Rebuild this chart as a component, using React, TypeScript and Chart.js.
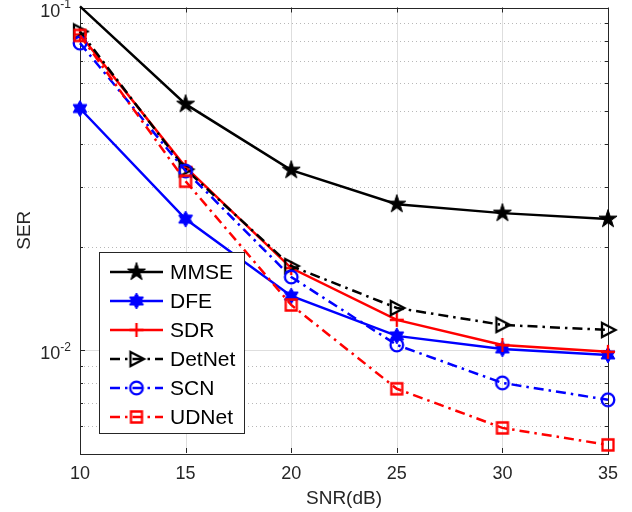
import React, { useEffect, useRef } from "react";
import { Chart, registerables } from "chart.js";

Chart.register(...registerables);

// ---- data ----
const snrValues = [10, 15, 20, 25, 30, 35];
const mmseSer = [0.1008, 0.0522, 0.0335, 0.02665, 0.02509, 0.0241];
const dfeSer = [0.0507, 0.0241, 0.01437, 0.01099, 0.01007, 0.00967];
const sdrSer = [0.0834, 0.0342, 0.01734, 0.01224, 0.01034, 0.00987];
const detnetSer = [0.0851, 0.0337, 0.01758, 0.01326, 0.01183, 0.01144];
const scnSer = [0.0787, 0.0333, 0.01633, 0.01034, 0.00801, 0.00715];
const udnetSer = [0.0829, 0.0311, 0.01353, 0.0077, 0.00592, 0.00528];

const seriesNames = ["MMSE", "DFE", "SDR", "DetNet", "SCN", "UDNet"];

const xMin = 10;
const xMax = 35;
const xStep = 5;
const yMin = 0.005;
const yMax = 0.1;
const yMajorTicks = [0.01, 0.1];
const yMajorBase = ["10", "10"];
const yMajorExp = ["-2", "-1"];
const yMinorTicks = [0.006, 0.007, 0.008, 0.009, 0.02, 0.03, 0.04, 0.05, 0.06, 0.07, 0.08, 0.09];

const xTitle = "SNR(dB)";
const yTitle = "SER";

const FONT = "'Liberation Sans', Arial, Helvetica, sans-serif";
const AXIS_COLOR = "#262626";
const DASHDOT = [10, 5, 2.5, 5];

type MarkerKind = "pentagram" | "hexagram" | "plus" | "triRight" | "circle" | "square";

function makeMarker(kind: MarkerKind, color: string): HTMLCanvasElement {
  const size = 24;
  const c = document.createElement("canvas");
  c.width = size;
  c.height = size;
  const ctx = c.getContext("2d")!;
  const cx = size / 2;
  const cy = size / 2;
  ctx.strokeStyle = color;
  ctx.fillStyle = color;
  ctx.lineWidth = 2.3;
  ctx.lineJoin = "miter";
  ctx.beginPath();
  if (kind === "pentagram" || kind === "hexagram") {
    const n = kind === "pentagram" ? 5 : 6;
    const ro = kind === "pentagram" ? 9.5 : 8;
    const ri = kind === "pentagram" ? ro * 0.382 : ro / Math.sqrt(3);
    for (let i = 0; i < 2 * n; i++) {
      const r = i % 2 === 0 ? ro : ri;
      const a = -Math.PI / 2 + (i * Math.PI) / n;
      const px = cx + r * Math.cos(a);
      const py = cy + r * Math.sin(a);
      if (i === 0) ctx.moveTo(px, py);
      else ctx.lineTo(px, py);
    }
    ctx.closePath();
    ctx.fill();
    ctx.lineWidth = 1;
    ctx.stroke();
  } else if (kind === "plus") {
    ctx.moveTo(cx - 7, cy);
    ctx.lineTo(cx + 7, cy);
    ctx.moveTo(cx, cy - 7);
    ctx.lineTo(cx, cy + 7);
    ctx.stroke();
  } else if (kind === "triRight") {
    ctx.moveTo(cx - 6, cy - 7);
    ctx.lineTo(cx + 7.5, cy);
    ctx.lineTo(cx - 6, cy + 7);
    ctx.closePath();
    ctx.stroke();
  } else if (kind === "circle") {
    ctx.arc(cx, cy, 6.3, 0, Math.PI * 2);
    ctx.stroke();
  } else if (kind === "square") {
    ctx.rect(cx - 5.5, cy - 5.5, 11, 11);
    ctx.stroke();
  }
  return c;
}

export default function App() {
  const canvasRef = useRef<HTMLCanvasElement | null>(null);

  useEffect(() => {
    const canvas = canvasRef.current;
    if (!canvas) return;

    const styles = [
      { color: "#000000", dash: [] as number[], marker: makeMarker("pentagram", "#000000") },
      { color: "#0000ff", dash: [] as number[], marker: makeMarker("hexagram", "#0000ff") },
      { color: "#ff0000", dash: [] as number[], marker: makeMarker("plus", "#ff0000") },
      { color: "#000000", dash: DASHDOT, marker: makeMarker("triRight", "#000000") },
      { color: "#0000ff", dash: DASHDOT, marker: makeMarker("circle", "#0000ff") },
      { color: "#ff0000", dash: DASHDOT, marker: makeMarker("square", "#ff0000") },
    ];
    const seriesData = [mmseSer, dfeSer, sdrSer, detnetSer, scnSer, udnetSer];

    const datasets = seriesData.map((arr, i) => ({
      label: seriesNames[i],
      data: snrValues.map((x, j) => ({ x, y: arr[j] })),
      borderColor: styles[i].color,
      backgroundColor: styles[i].color,
      borderWidth: 2.5,
      borderDash: styles[i].dash,
      pointStyle: styles[i].marker,
      pointRadius: (ctx: any) => (ctx.raw && ctx.raw.y > yMax ? 0 : 5),
      pointHoverRadius: 5,
      tension: 0,
      fill: false,
      clip: false as any,
      order: seriesData.length - 1 - i,
    }));

    const decorPlugin = {
      id: "matlabDecor",
      beforeDatasetsDraw(chart: any) {
        const ctx = chart.ctx as CanvasRenderingContext2D;
        const { left, right, top, bottom } = chart.chartArea;
        const xs = chart.scales.x;
        const ys = chart.scales.y;
        ctx.save();
        ctx.fillStyle = "#ffffff";
        ctx.fillRect(left, top, right - left, bottom - top);
        // vertical major grid
        ctx.strokeStyle = "rgba(0,0,0,0.13)";
        ctx.lineWidth = 1;
        ctx.setLineDash([]);
        for (let v = xMin + xStep; v < xMax; v += xStep) {
          const px = Math.round(xs.getPixelForValue(v)) + 0.5;
          ctx.beginPath();
          ctx.moveTo(px, top);
          ctx.lineTo(px, bottom);
          ctx.stroke();
        }
        // horizontal major grid
        yMajorTicks.forEach((v) => {
          if (v >= yMax) return;
          const py = Math.round(ys.getPixelForValue(v)) + 0.5;
          ctx.beginPath();
          ctx.moveTo(left, py);
          ctx.lineTo(right, py);
          ctx.stroke();
        });
        // minor dotted grid
        ctx.strokeStyle = "rgba(0,0,0,0.28)";
        ctx.setLineDash([1, 3]);
        yMinorTicks.forEach((v) => {
          const py = Math.round(ys.getPixelForValue(v)) + 0.5;
          ctx.beginPath();
          ctx.moveTo(left, py);
          ctx.lineTo(right, py);
          ctx.stroke();
        });
        ctx.setLineDash([]);
        // ticks
        ctx.strokeStyle = AXIS_COLOR;
        ctx.lineWidth = 1;
        for (let v = xMin; v <= xMax; v += xStep) {
          const px = Math.round(xs.getPixelForValue(v)) + 0.5;
          ctx.beginPath();
          ctx.moveTo(px, bottom);
          ctx.lineTo(px, bottom - 5);
          ctx.moveTo(px, top);
          ctx.lineTo(px, top + 5);
          ctx.stroke();
        }
        const yTick = (v: number, len: number) => {
          const py = Math.round(ys.getPixelForValue(v)) + 0.5;
          ctx.beginPath();
          ctx.moveTo(left, py);
          ctx.lineTo(left + len, py);
          ctx.moveTo(right, py);
          ctx.lineTo(right - len, py);
          ctx.stroke();
        };
        yMajorTicks.forEach((v) => yTick(v, 5));
        yMinorTicks.forEach((v) => yTick(v, 3));
        // box
        ctx.strokeStyle = AXIS_COLOR;
        ctx.lineWidth = 1;
        ctx.strokeRect(Math.round(left) + 0.5, Math.round(top) + 0.5, Math.round(right - left), Math.round(bottom - top));
        // y tick labels with superscript
        ctx.fillStyle = AXIS_COLOR;
        ctx.textBaseline = "middle";
        yMajorTicks.forEach((v, i) => {
          const py = ys.getPixelForValue(v);
          ctx.font = `12px ${FONT}`;
          const ew = ctx.measureText(yMajorExp[i]).width;
          ctx.textAlign = "right";
          const rightEdge = left - 9;
          ctx.fillText(yMajorExp[i], rightEdge, py - 2.5);
          ctx.font = `18px ${FONT}`;
          ctx.fillText(yMajorBase[i], rightEdge - ew, py + 4.5);
        });
        ctx.restore();
      },
      afterDraw(chart: any) {
        const ctx = chart.ctx as CanvasRenderingContext2D;
        ctx.save();
        const bx = 99.5, by = 252.5, bw = 145, bh = 181;
        ctx.fillStyle = "#ffffff";
        ctx.fillRect(bx, by, bw, bh);
        ctx.strokeStyle = AXIS_COLOR;
        ctx.lineWidth = 1;
        ctx.strokeRect(bx, by, bw, bh);
        seriesNames.forEach((name, i) => {
          const cy = 272 + i * 29;
          ctx.strokeStyle = styles[i].color;
          ctx.lineWidth = 2.5;
          ctx.setLineDash(styles[i].dash);
          ctx.beginPath();
          ctx.moveTo(110, cy);
          ctx.lineTo(163, cy);
          ctx.stroke();
          ctx.setLineDash([]);
          const m = styles[i].marker;
          ctx.drawImage(m, 136.5 - m.width / 2, cy - m.height / 2);
          ctx.fillStyle = "#000000";
          ctx.font = `21px ${FONT}`;
          ctx.textAlign = "left";
          ctx.textBaseline = "middle";
          ctx.fillText(name, 170, cy + 1);
        });
        ctx.restore();
      },
    };

    const chart = new Chart(canvas, {
      type: "line",
      data: { datasets: datasets as any },
      options: {
        animation: false,
        responsive: false,
        devicePixelRatio: 1,
        layout: { padding: { left: 0, top: 6, right: 24, bottom: 0 } },
        plugins: {
          legend: { display: false },
          tooltip: { enabled: false },
        },
        scales: {
          x: {
            type: "linear",
            min: xMin,
            max: xMax,
            grid: { display: false },
            border: { display: false },
            ticks: {
              stepSize: xStep,
              color: AXIS_COLOR,
              font: { family: FONT, size: 18 },
              padding: 2,
              maxRotation: 0,
            },
            title: {
              display: true,
              text: xTitle,
              color: AXIS_COLOR,
              font: { family: FONT, size: 19 },
              padding: { top: 0, bottom: 2 },
            },
            afterFit: (scale: any) => {
              scale.height = 59;
            },
          },
          y: {
            type: "logarithmic",
            min: yMin,
            max: yMax,
            grid: { display: false },
            border: { display: false },
            ticks: { display: false },
            title: {
              display: true,
              text: yTitle,
              color: AXIS_COLOR,
              font: { family: FONT, size: 19 },
              padding: { top: 13, bottom: 0 },
            },
            afterFit: (scale: any) => {
              scale.width = 80;
            },
          },
        },
      },
      plugins: [decorPlugin],
    });

    return () => chart.destroy();
  }, []);

  return (
    <div style={{ position: "absolute", left: 0, top: 0, width: 632, height: 512, background: "#ffffff" }}>
      <canvas ref={canvasRef} width={632} height={512} style={{ width: 632, height: 512 }} />
    </div>
  );
}
